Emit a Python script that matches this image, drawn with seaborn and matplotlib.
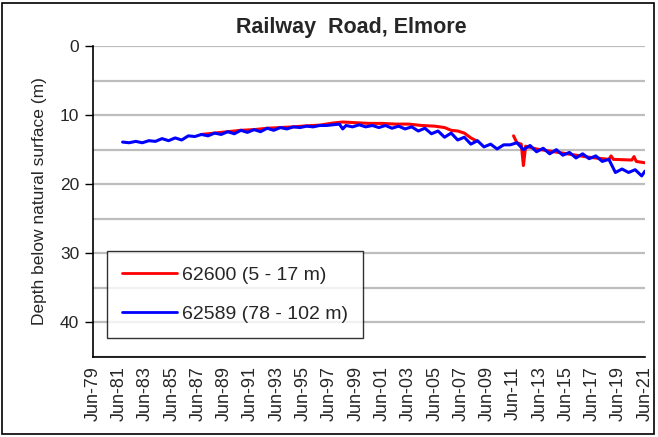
import matplotlib
matplotlib.use('Agg')
import matplotlib.pyplot as plt
import matplotlib.dates as mdates
from matplotlib.patches import Rectangle
from matplotlib.ticker import MultipleLocator, FixedLocator
import seaborn as sns
import pandas as pd

# 62589 (78 - 102 m) - blue bore
blue_dates = ['1981-09', '1982-03', '1982-09', '1983-03', '1983-09', '1984-03', '1984-09',
              '1985-03', '1985-09', '1986-03', '1986-09', '1987-03', '1987-09', '1988-03',
              '1988-09', '1989-03', '1989-09', '1990-03', '1990-09', '1991-03', '1991-09',
              '1992-03', '1992-09', '1993-03', '1993-09', '1994-03', '1994-09', '1995-03',
              '1995-09', '1996-03', '1996-09', '1997-03', '1997-09', '1998-03', '1998-06',
              '1998-09', '1999-03', '1999-09', '2000-03', '2000-09', '2001-03', '2001-09',
              '2002-03', '2002-09', '2003-03', '2003-09', '2004-03', '2004-09', '2005-03',
              '2005-09', '2006-03', '2006-09', '2007-03', '2007-09', '2008-03', '2008-09',
              '2009-03', '2009-09', '2010-03', '2010-09', '2011-03', '2011-09', '2012-03',
              '2012-09', '2013-03', '2013-09', '2014-03', '2014-09', '2015-03', '2015-09',
              '2016-03', '2016-09', '2017-03', '2017-09', '2018-03', '2018-09', '2019-03',
              '2019-09', '2020-03', '2020-09', '2021-03', '2021-06']
blue_depth = [13.9, 14.0, 13.8, 14.0, 13.7, 13.8, 13.4,
              13.7, 13.3, 13.6, 13.0, 13.1, 12.8, 13.0,
              12.6, 12.8, 12.4, 12.7, 12.2, 12.5, 12.1,
              12.4, 11.9, 12.2, 11.8, 12.0, 11.7, 11.8,
              11.6, 11.7, 11.5, 11.5, 11.4, 11.3, 12.0,
              11.5, 11.7, 11.4, 11.7, 11.5, 11.8, 11.5,
              11.9, 11.6, 12.0, 11.7, 12.3, 11.9, 12.7,
              12.3, 13.2, 12.6, 13.6, 13.2, 14.2, 13.7,
              14.6, 14.2, 14.9, 14.3, 14.3, 14.0, 15.0,
              14.4, 15.3, 14.8, 15.6, 15.0, 15.8, 15.4,
              16.2, 15.6, 16.3, 15.9, 16.7, 16.4, 18.3,
              17.8, 18.3, 17.9, 18.8, 18.1]

# 62600 (5 - 17 m) - red bore, two runs of records with a gap 2008-2011
red_dates_a = ['1987-09', '1988-09', '1989-09', '1990-09', '1991-09', '1992-09', '1993-09',
               '1994-09', '1995-09', '1996-09', '1997-09', '1998-06', '1999-06', '2000-06',
               '2001-06', '2002-06', '2003-06', '2004-06', '2005-06', '2006-03', '2006-09',
               '2007-03', '2007-09', '2008-03', '2008-09']
red_depth_a = [12.8, 12.6, 12.4, 12.2, 12.1, 11.9, 11.8,
               11.7, 11.55, 11.45, 11.15, 11.0, 11.1, 11.2,
               11.2, 11.3, 11.3, 11.5, 11.6, 11.8, 12.2,
               12.3, 12.6, 13.3, 13.8]
red_dates_b = ['2011-06', '2011-09', '2012-01', '2012-03', '2012-05', '2013-03', '2014-03',
               '2015-03', '2016-03', '2017-03', '2018-03', '2018-09', '2018-11', '2019-01',
               '2020-06', '2020-08', '2020-10', '2021-06']
red_depth_b = [13.0, 14.0, 14.2, 17.3, 14.5, 14.9, 15.2,
               15.5, 15.8, 16.1, 16.3, 16.4, 15.9, 16.4,
               16.5, 16.0, 16.7, 16.9]

red_label = '62600 (5 - 17 m)'
blue_label = '62589 (78 - 102 m)'


def build_frame():
    parts = []
    parts.append(pd.DataFrame({'Date': red_dates_a, 'Depth': red_depth_a,
                               'Bore': red_label, 'seg': 'r1'}))
    parts.append(pd.DataFrame({'Date': red_dates_b, 'Depth': red_depth_b,
                               'Bore': red_label, 'seg': 'r2'}))
    parts.append(pd.DataFrame({'Date': blue_dates, 'Depth': blue_depth,
                               'Bore': blue_label, 'seg': 'b1'}))
    df = pd.concat(parts, ignore_index=True)
    df['Date'] = pd.to_datetime(df['Date'])
    return df


def main():
    df = build_frame()

    sns.set_style('white')
    plt.rcParams['font.family'] = ['Liberation Sans', 'DejaVu Sans']

    fig = plt.figure(figsize=(6.58, 4.37), dpi=100)
    ax = fig.add_axes([93 / 658, 1 - 357 / 437, 552 / 658, 311 / 437])

    sns.lineplot(data=df, x='Date', y='Depth', hue='Bore', units='seg', estimator=None,
                 hue_order=[red_label, blue_label], palette=['#ff0000', '#0000ff'],
                 linewidth=2.2, ax=ax)

    ax.set_ylim(45, 0)
    ax.yaxis.set_major_locator(MultipleLocator(10))
    ax.yaxis.set_minor_locator(MultipleLocator(5))
    ax.set_axisbelow(True)
    ax.grid(True, axis='y', which='both', color='#bdbdbd', linewidth=1.6)
    ax.set_xlim(pd.Timestamp('1979-06-01'), pd.Timestamp('2021-06-01'))

    majors = pd.date_range('1979-06-01', '2021-06-01', freq='24MS')
    minors = pd.date_range('1979-06-01', '2021-06-01', freq='12MS')
    ax.xaxis.set_major_locator(FixedLocator(mdates.date2num(majors)))
    ax.xaxis.set_minor_locator(FixedLocator(mdates.date2num(minors)))
    ax.xaxis.set_major_formatter(mdates.DateFormatter('%b-%y'))

    ax.tick_params(axis='x', which='major', direction='inout', length=9, width=1,
                   labelsize=13, rotation=90, pad=2, color='black')
    ax.tick_params(axis='x', which='minor', direction='in', length=5, width=1, color='black')
    ax.tick_params(axis='y', which='major', direction='out', length=6, width=1,
                   labelsize=12.5, pad=4, color='black', left=True)
    ax.tick_params(axis='y', which='minor', length=0)

    for s in ['top', 'right']:
        ax.spines[s].set_visible(False)
    for s in ['left', 'bottom']:
        ax.spines[s].set_color('black')
        ax.spines[s].set_linewidth(1.2)

    ax.set_xlabel('')
    ax.set_ylabel('Depth below natural surface (m)', fontsize=12.5, labelpad=9)

    leg = ax.legend(loc='lower left', bbox_to_anchor=(0.025, 0.06), borderaxespad=0,
                    fontsize=14, frameon=True, fancybox=False, handlelength=2.8,
                    handletextpad=0.25, labelspacing=1.1, borderpad=0.8)
    leg.get_frame().set_edgecolor('black')
    leg.get_frame().set_linewidth(1.0)
    for line in leg.get_lines():
        line.set_linewidth(2.0)

    fig.text(351 / 658, 1 - 28 / 437, 'Railway  Road, Elmore', ha='center', va='center',
             fontsize=15.5, fontweight='bold')

    fig.patches.append(Rectangle((2 / 658, 3 / 437), 652 / 658, 431 / 437,
                                 transform=fig.transFigure, fill=False,
                                 edgecolor='black', linewidth=1.2))

    fig.savefig('out.png', dpi=100)


if __name__ == '__main__':
    main()
